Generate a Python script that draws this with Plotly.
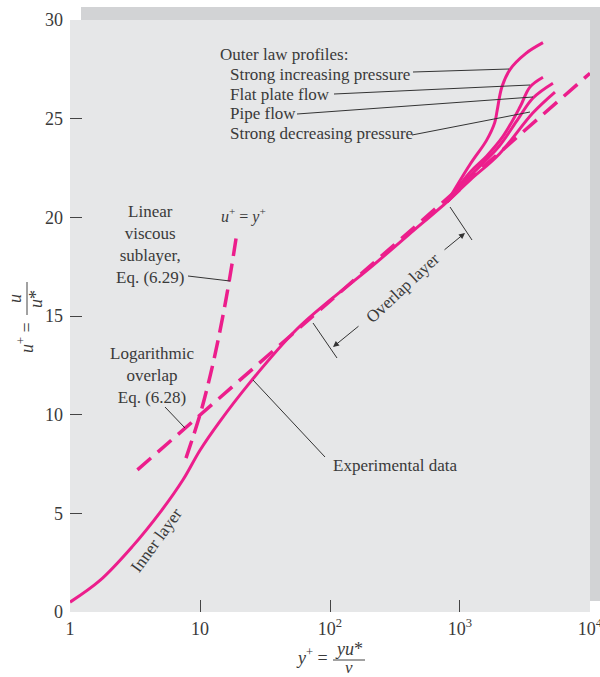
import plotly.graph_objects as go

# ---------------- data ----------------
exp_yplus = [1, 1.7, 3, 5, 7.4, 10, 14, 24, 55, 100, 200, 400, 800, 1000]
exp_uplus = [0.5, 1.6, 3.3, 5.1, 6.7, 8.2, 9.6, 11.6, 14.3, 15.8, 17.4, 19.1, 20.8, 21.4]

inc_yplus = [800, 1200, 1600, 1850, 1930, 2100, 2430, 3200, 4350]
inc_uplus = [20.8, 22.7, 23.9, 24.8, 25.4, 26.6, 27.5, 28.3, 28.85]

flat_yplus = [800, 1200, 1600, 2140, 2900, 3450, 4350]
flat_uplus = [20.8, 22.3, 23.1, 24.1, 25.6, 26.6, 27.1]

pipe_yplus = [800, 1200, 2000, 2745, 3645, 5190]
pipe_uplus = [20.8, 22.1, 23.6, 24.9, 26.05, 26.8]

dec_yplus = [800, 1200, 2000, 3645, 5380]
dec_uplus = [20.8, 21.9, 23.2, 25.3, 26.35]

log_yplus = [3.3, 10000]
log_uplus = [7.2, 27.3]

lin_yplus = [7.8, 10, 12, 14, 16, 18, 19.3]
lin_uplus = [7.8, 10, 12, 14, 16, 18, 19.3]

xtick_vals = [1, 10, 100, 1000, 10000]
xtick_text = ["1", "10", "10<sup>2</sup>", "10<sup>3</sup>", "10<sup>4</sup>"]
ytick_vals = [0, 5, 10, 15, 20, 25, 30]

# ---------------- layout geometry ----------------
W, H = 600, 677
L, R, T, B = 70, 10, 20, 65
PW, PH = W - L - R, H - T - B

def px(x):
    return (x - L) / PW

def py(y):
    return (H - B - y) / PH

PINK = "#EC1E8C"
TXT = "#3a3a3a"
FONT = "Liberation Serif"
FS = 17

fig = go.Figure()

line_solid = dict(color=PINK, width=3, shape="spline")
for xs, ys in [(exp_yplus, exp_uplus), (inc_yplus, inc_uplus), (flat_yplus, flat_uplus),
               (pipe_yplus, pipe_uplus), (dec_yplus, dec_uplus)]:
    fig.add_trace(go.Scatter(x=xs, y=ys, mode="lines", line=line_solid,
                             hoverinfo="skip", showlegend=False))

fig.add_trace(go.Scatter(x=log_yplus, y=log_uplus, mode="lines",
                         line=dict(color=PINK, width=3.5, dash="18px,9px"),
                         hoverinfo="skip", showlegend=False))
fig.add_trace(go.Scatter(x=lin_yplus, y=lin_uplus, mode="lines",
                         line=dict(color=PINK, width=3.5, dash="18px,8px", shape="spline"),
                         hoverinfo="skip", showlegend=False))

shapes = []
# shadow frame and plot panel
shapes.append(dict(type="rect", xref="paper", yref="paper", x0=px(81), x1=px(602),
                   y0=py(601), y1=py(7), fillcolor="#d2d3d5", line=dict(width=0), layer="below"))
shapes.append(dict(type="rect", xref="paper", yref="paper", x0=px(70), x1=px(590),
                   y0=py(612), y1=py(20), fillcolor="#e6e7e8", line=dict(width=0), layer="below"))

def seg(x0, y0, x1, y1, w=1, c="#333333"):
    shapes.append(dict(type="line", xref="paper", yref="paper", x0=px(x0), y0=py(y0),
                       x1=px(x1), y1=py(y1), line=dict(color=c, width=w)))

# leader lines
seg(413, 72, 509, 69)
seg(334, 94, 530, 85)
seg(297, 114, 533, 97)
seg(412, 135, 530, 112)
seg(188, 276, 230, 281)
seg(165, 407, 185, 428)
seg(253, 380, 325, 457)
# overlap layer bars
seg(313, 323, 337, 358)
seg(450, 207, 472, 240)
# fraction bars for axis titles
seg(27, 282, 27, 315, w=1, c="#444444")
seg(333, 660, 365, 660, w=1, c="#444444")

annotations = []

def txt(x, y, s, size=FS, xanchor="center", angle=0, color=TXT):
    annotations.append(dict(xref="paper", yref="paper", x=px(x), y=py(y), text=s,
                            showarrow=False, xanchor=xanchor, yanchor="middle",
                            textangle=angle, font=dict(family=FONT, size=size, color=color)))

txt(218, 55, "Outer law profiles:", xanchor="left")
txt(228, 74, "Strong increasing pressure", xanchor="left")
txt(228, 94, "Flat plate flow", xanchor="left")
txt(228, 113, "Pipe flow", xanchor="left")
txt(228, 133, "Strong decreasing pressure", xanchor="left")
txt(243, 215, "<i>u</i><sup>+</sup> = <i>y</i><sup>+</sup>", size=16)
txt(150, 244, "Linear<br>viscous<br>sublayer,<br>Eq. (6.29)")
txt(152, 375, "Logarithmic<br>overlap<br>Eq. (6.28)")
txt(331, 465, "Experimental data", xanchor="left")
txt(156, 540, "Inner layer", angle=-54)
txt(402, 288, "Overlap layer", angle=-43)

# axis titles
txt(25, 338, "<i>u</i><sup>+</sup> =", angle=-90, size=18)
txt(15, 299, "<i>u</i>", angle=-90, size=18)
txt(36, 299, "<i>u</i>*", angle=-90, size=18)
txt(312, 656, "<i>y</i><sup>+</sup> =", size=18)
txt(349, 649, "<i>yu</i>*", size=18)
txt(349, 667, "<i>ν</i>", size=17)

# arrows of overlap layer
for hx, hy, tx, ty in [(333, 347, 360, 325), (465, 233, 443, 251)]:
    annotations.append(dict(xref="paper", yref="paper", x=px(hx), y=py(hy),
                            ax=tx - hx, ay=ty - hy, axref="pixel", ayref="pixel",
                            text="", showarrow=True, arrowhead=2, arrowsize=1.2,
                            arrowwidth=1, arrowcolor="#333333"))

fig.update_layout(
    width=W, height=H,
    margin=dict(l=L, r=R, t=T, b=B, autoexpand=False),
    paper_bgcolor="white",
    plot_bgcolor="rgba(0,0,0,0)",
    shapes=shapes,
    annotations=annotations,
    showlegend=False,
    font=dict(family=FONT, size=FS, color=TXT),
)
fig.update_xaxes(type="log", range=[-0.0002, 4.0002], tickvals=xtick_vals, ticktext=xtick_text,
                 ticks="inside", ticklen=12, tickcolor="#444444", tickwidth=1.2,
                 showgrid=False, zeroline=False, showline=False, ticklabelstandoff=4,
                 ticklabeloverflow="allow", automargin=False,
                 tickfont=dict(family=FONT, size=18, color=TXT))
fig.update_yaxes(range=[0, 30], tickvals=ytick_vals,
                 ticks="inside", ticklen=12, tickcolor="#444444", tickwidth=1.2,
                 showgrid=False, zeroline=False, showline=False, ticklabelstandoff=6,
                 ticklabeloverflow="allow", automargin=False,
                 tickfont=dict(family=FONT, size=18, color=TXT))

fig.write_html("out.html")
